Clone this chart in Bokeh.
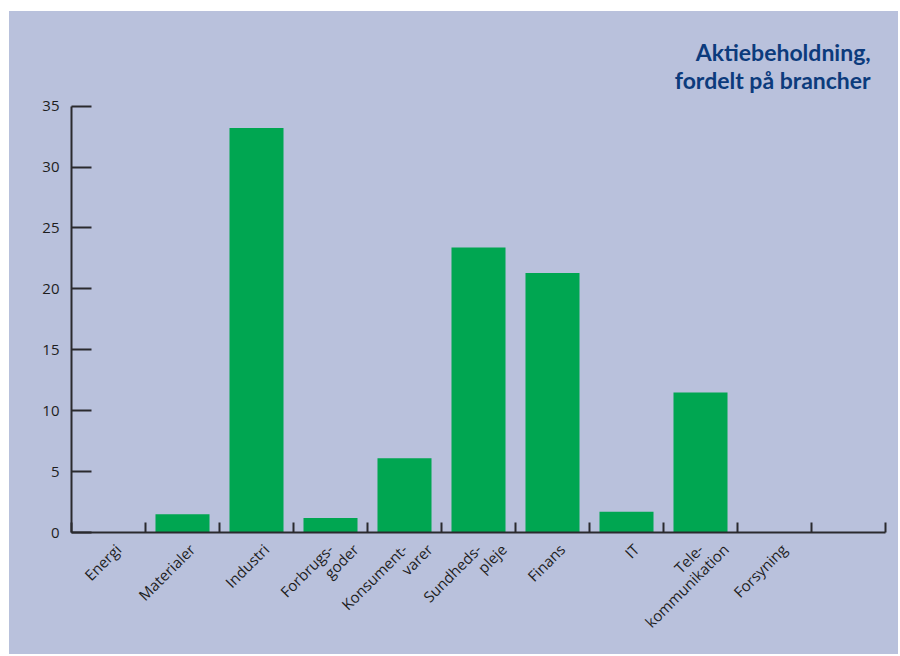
import math
from bokeh.plotting import figure
from bokeh.models import Range1d, FixedTicker
from bokeh.core.properties import value
from bokeh.embed import file_html
from bokeh.resources import INLINE

# ---- data ----
categories = ["Energi", "Materialer", "Industri", "Forbrugs-\ngoder", "Konsument-\nvarer",
              "Sundheds-\npleje", "Finans", "IT", "Tele-\nkommunikation", "Forsyning"]
values = [0, 1.5, 33.2, 1.2, 6.1, 23.4, 21.3, 1.7, 11.5, 0]
y_ticks = [0, 5, 10, 15, 20, 25, 30, 35]
n_slots = 11  # one empty slot after the last category
title_lines = ["Aktiebeholdning,", "fordelt på brancher"]

BG = "#b9c1dc"
GREEN = "#00a651"
AXIS = "#2a2a2e"
TITLE = "#0c3b7c"
FONT = "Open Sans"

centers = [i + 0.5 for i in range(len(categories))]

# label anchors: each text line of a category label gets its own tick position
label_ticks, label_texts = [], []
for c, lab in zip(centers, categories):
    lines = lab.split("\n")
    offs = [0.13] if len(lines) == 1 else [0.0, 0.34]
    for o, ln in zip(offs, lines):
        pos = round(c + o, 3)
        label_ticks.append(pos)
        label_texts.append(ln)

# frame extends above the axis top so the title can sit inside it
p = figure(width=889, height=643, output_backend="svg", toolbar_location=None,
           x_range=Range1d(0, n_slots), y_range=Range1d(0, 42.77),
           min_border_left=62, min_border_right=13, min_border_top=0, min_border_bottom=122)
p.margin = (11, 0, 0, 9)
p.styles = {"background-color": BG}
p.background_fill_color = BG
p.border_fill_color = BG
p.outline_line_color = None
p.grid.visible = False

p.vbar(x=centers, top=values, width=0.73, fill_color=GREEN, line_color=None)

# title (right aligned, two lines)
p.text(x=[10.8, 10.8], y=[39.45, 37.15], text=title_lines, text_align="right",
       text_baseline="alphabetic", text_font=value("Lato"), text_font_style="bold",
       text_font_size="23px", text_color=TITLE)

# x axis: boundary ticks as minor ticks, labels near category centers
xa = p.xaxis[0]
xa.ticker = FixedTicker(ticks=label_ticks, minor_ticks=list(range(n_slots + 1)))
xa.major_label_overrides = {t: s for t, s in zip(label_ticks, label_texts)}
xa.major_tick_in = 0
xa.major_tick_out = 0
xa.minor_tick_in = 10
xa.minor_tick_out = 0
xa.minor_tick_line_color = AXIS
xa.minor_tick_line_width = 2
xa.axis_line_color = AXIS
xa.axis_line_width = 2
xa.major_label_orientation = math.pi / 4
xa.major_label_text_font = FONT
xa.major_label_text_font_size = "15px"
xa.major_label_text_color = "#1e1e1e"
xa.major_label_standoff = 14

ya = p.yaxis[0]
ya.bounds = (0, 35)
ya.ticker = FixedTicker(ticks=y_ticks, minor_ticks=[])
ya.major_tick_in = 20
ya.major_tick_out = 0
ya.major_tick_line_color = AXIS
ya.major_tick_line_width = 2
ya.axis_line_color = AXIS
ya.axis_line_width = 2
ya.major_label_text_font = FONT
ya.major_label_text_font_size = "15px"
ya.major_label_text_color = "#1e1e1e"
ya.major_label_standoff = 12

open("out.html", "w").write(file_html(p, INLINE))
